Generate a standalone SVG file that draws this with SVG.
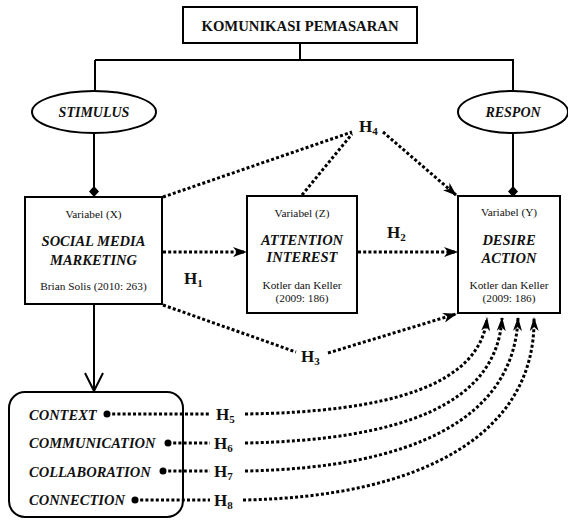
<svg xmlns="http://www.w3.org/2000/svg" width="568" height="521" viewBox="0 0 568 521">
<style>
.box{fill:#fff;stroke:#000;stroke-width:2}
.ln{fill:none;stroke:#000;stroke-width:2}
.dot{fill:none;stroke:#000;stroke-width:3;stroke-dasharray:3 2.2}
text{font-family:'Liberation Serif','Times New Roman',serif;fill:#111;text-anchor:middle}
.sm{font-size:11.3px}
.bi{font-size:14.5px;font-weight:bold;font-style:italic}
.li{font-size:14.5px;font-weight:bold;font-style:italic;text-anchor:start}
.h{font-size:17px;font-weight:bold;text-anchor:start}
.hs{font-size:11px}
</style>
<defs>
<marker id="arr" markerUnits="userSpaceOnUse" viewBox="0 0 14 10" markerWidth="14" markerHeight="10" refX="13" refY="5" orient="auto">
<path d="M0,0 L14,5 L0,10 L4,5 z" fill="#000"/>
</marker>
<marker id="arrv" markerUnits="userSpaceOnUse" viewBox="0 0 14 10" markerWidth="14" markerHeight="10" refX="13" refY="5" orient="auto">
<path d="M0,0.5 L14,5 L0,9.5 L4,5 z" fill="#000"/>
</marker>
<marker id="open" markerUnits="userSpaceOnUse" viewBox="0 0 20 20" markerWidth="20" markerHeight="20" refX="19" refY="10" orient="auto">
<path d="M1,1 L19,10 L1,19" fill="none" stroke="#000" stroke-width="2"/>
</marker>
</defs>

<g id="komunikasi">
<rect class="box" x="183" y="7" width="234" height="36"/>
<text x="300" y="30.5" style="font-size:14.7px;font-weight:bold">KOMUNIKASI PEMASARAN</text>
</g>

<g id="stimulus">
<ellipse class="box" cx="94" cy="112" rx="62" ry="21"/>
<text x="94" y="117" style="font-size:14px;font-weight:bold;font-style:italic">STIMULUS</text>
</g>

<g id="respon">
<ellipse class="box" cx="513" cy="112" rx="55" ry="21"/>
<text x="513" y="117" style="font-size:14px;font-weight:bold;font-style:italic">RESPON</text>
</g>

<g id="smm">
<rect class="box" x="25" y="197" width="137" height="107"/>
<text class="sm" x="93.5" y="218">Variabel (X)</text>
<text class="bi" x="93.5" y="246">SOCIAL MEDIA</text>
<text class="bi" x="93.5" y="265">MARKETING</text>
<text class="sm" x="93.5" y="290">Brian Solis (2010: 263)</text>
</g>

<g id="attention">
<rect class="box" x="247" y="196" width="110" height="117"/>
<text class="sm" x="302" y="217">Variabel (Z)</text>
<text class="bi" x="302" y="245">ATTENTION</text>
<text class="bi" x="302" y="262">INTEREST</text>
<text class="sm" x="302" y="289">Kotler dan Keller</text>
<text class="sm" x="302" y="302">(2009: 186)</text>
</g>

<g id="desire">
<rect class="box" x="458" y="196" width="102" height="117"/>
<text class="sm" x="509" y="216">Variabel (Y)</text>
<text class="bi" x="509" y="245">DESIRE</text>
<text class="bi" x="509" y="263">ACTION</text>
<text class="sm" x="509" y="289">Kotler dan Keller</text>
<text class="sm" x="509" y="302">(2009: 186)</text>
</g>

<g id="dimensions">
<rect class="box" x="9" y="392" width="174" height="125" rx="16"/>
<text class="li" x="29" y="420">CONTEXT</text>
<text class="li" x="29" y="448">COMMUNICATION</text>
<text class="li" x="29" y="477">COLLABORATION</text>
<text class="li" x="29" y="505">CONNECTION</text>
</g>

<g id="connectors">
<path class="ln" d="M300,43 V60 M95,60 H514 M95,60 V91 M513,60 V91"/>
<path class="ln" d="M94,133 V192 M513,133 V192"/>
<path d="M94,186 L99,191.5 L94,197 L89,191.5 z M513,186 L518,191.5 L513,197 L508,191.5 z" fill="#000"/>
<path class="ln" d="M94,305 V391" marker-end="url(#open)"/>
<path class="dot" d="M163,252 H246" marker-end="url(#arr)"/>
<path class="dot" d="M358,252 H457" marker-end="url(#arr)"/>
<path class="dot" d="M163,197 L352,132"/>
<path class="dot" d="M302,195 L352,134"/>
<path class="dot" d="M383,132 L456,195" marker-end="url(#arr)"/>
<path class="dot" d="M163,305 L296,352"/>
<path class="dot" d="M328,353 L456,314" marker-end="url(#arr)"/>
<path class="dot" d="M107,414 H210 M168,443 H210 M163,471 H210 M135,500 H210"/>
<path class="dot" d="M245,414 C390,412 480,385 487,318" marker-end="url(#arrv)"/>
<path class="dot" d="M245,443 C400,440 497,405 502,318" marker-end="url(#arrv)"/>
<path class="dot" d="M245,471 C410,468 514,420 518,318" marker-end="url(#arrv)"/>
<path class="dot" d="M243,500 C420,497 536,435 534,318" marker-end="url(#arrv)"/>
<g fill="#000">
<circle cx="107" cy="414" r="3.5"/>
<circle cx="168" cy="443" r="3.5"/>
<circle cx="163" cy="471" r="3.5"/>
<circle cx="135" cy="500" r="3.5"/>
</g>
<text class="h" x="184" y="284">H<tspan class="hs" dy="3">1</tspan></text>
<text class="h" x="387" y="238">H<tspan class="hs" dy="3">2</tspan></text>
<text class="h" x="301" y="362">H<tspan class="hs" dy="3">3</tspan></text>
<text class="h" x="359" y="132">H<tspan class="hs" dy="3">4</tspan></text>
<text class="h" x="216" y="420">H<tspan class="hs" dy="3">5</tspan></text>
<text class="h" x="214" y="449">H<tspan class="hs" dy="3">6</tspan></text>
<text class="h" x="214" y="477">H<tspan class="hs" dy="3">7</tspan></text>
<text class="h" x="214" y="506">H<tspan class="hs" dy="3">8</tspan></text>
</g>
</svg>
